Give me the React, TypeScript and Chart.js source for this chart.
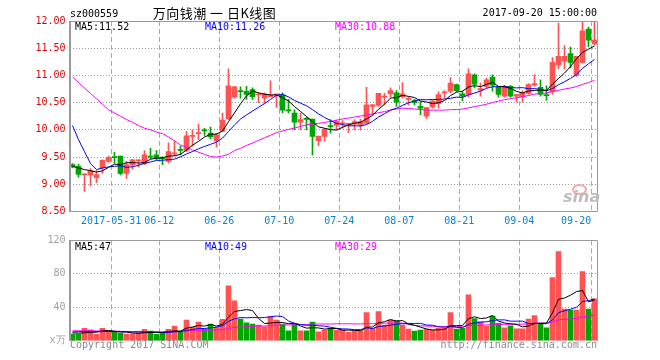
import React, { useEffect, useRef } from 'react';
import { Chart, registerables } from 'chart.js';

Chart.register(...registerables);

// ---------- data ----------
const dates = [
  '2017-05-18', '2017-05-19', '2017-05-22', '2017-05-23', '2017-05-24', '2017-05-25', '2017-05-26', '2017-05-31',
  '2017-06-01', '2017-06-02', '2017-06-05', '2017-06-06', '2017-06-07', '2017-06-08', '2017-06-09', '2017-06-12',
  '2017-06-13', '2017-06-14', '2017-06-15', '2017-06-16', '2017-06-19', '2017-06-20', '2017-06-21', '2017-06-22',
  '2017-06-23', '2017-06-26', '2017-06-27', '2017-06-28', '2017-06-29', '2017-06-30', '2017-07-03', '2017-07-04',
  '2017-07-05', '2017-07-06', '2017-07-07', '2017-07-10', '2017-07-11', '2017-07-12', '2017-07-13', '2017-07-14',
  '2017-07-17', '2017-07-18', '2017-07-19', '2017-07-20', '2017-07-21', '2017-07-24', '2017-07-25', '2017-07-26',
  '2017-07-27', '2017-07-28', '2017-07-31', '2017-08-01', '2017-08-02', '2017-08-03', '2017-08-04', '2017-08-07',
  '2017-08-08', '2017-08-09', '2017-08-10', '2017-08-11', '2017-08-14', '2017-08-15', '2017-08-16', '2017-08-17',
  '2017-08-18', '2017-08-21', '2017-08-22', '2017-08-23', '2017-08-24', '2017-08-25', '2017-08-28', '2017-08-29',
  '2017-08-30', '2017-08-31', '2017-09-01', '2017-09-04', '2017-09-05', '2017-09-06', '2017-09-07', '2017-09-08',
  '2017-09-11', '2017-09-12', '2017-09-13', '2017-09-14', '2017-09-15', '2017-09-18', '2017-09-19', '2017-09-20',
];

const opens = [
  9.36, 9.33, 9.17, 9.17, 9.12, 9.30, 9.42, 9.51, 9.52, 9.20,
  9.36, 9.43, 9.38, 9.52, 9.54, 9.48, 9.42, 9.56, 9.64, 9.62,
  9.88, 9.93, 10.00, 9.94, 9.80, 9.97, 10.20, 10.60, 10.72, 10.71,
  10.74, 10.64, 10.58, 10.61, 10.64, 10.64, 10.37, 10.31, 10.14, 10.21,
  10.20, 9.80, 9.88, 10.08, 10.08, 10.11, 10.10, 10.11, 10.09, 10.12,
  10.43, 10.45, 10.60, 10.66, 10.68, 10.61, 10.56, 10.54, 10.43, 10.25,
  10.42, 10.48, 10.68, 10.71, 10.83, 10.66, 10.65, 11.01, 10.73, 10.80,
  10.97, 10.78, 10.62, 10.80, 10.62, 10.61, 10.67, 10.82, 10.78, 10.64,
  10.70, 11.19, 11.26, 11.40, 11.00, 11.24, 11.85, 11.58,
];
const highs = [
  9.38, 9.37, 9.19, 9.29, 9.25, 9.45, 9.52, 9.59, 9.52, 9.42,
  9.46, 9.45, 9.62, 9.66, 9.62, 9.51, 9.76, 9.79, 9.70, 9.97,
  10.00, 10.10, 10.03, 10.05, 9.93, 10.31, 11.12, 10.80, 10.79, 10.80,
  10.77, 10.69, 10.68, 10.90, 10.66, 10.68, 10.56, 10.37, 10.31, 10.23,
  10.20, 9.89, 10.03, 10.19, 10.18, 10.17, 10.12, 10.19, 10.20, 10.78,
  10.47, 10.67, 10.67, 10.77, 10.72, 10.87, 10.60, 10.56, 10.52, 10.41,
  10.55, 10.70, 10.72, 10.96, 10.84, 10.70, 11.12, 11.03, 10.86, 10.95,
  11.01, 10.80, 10.82, 10.82, 10.65, 10.72, 10.85, 11.01, 10.92, 10.81,
  11.33, 11.96, 11.55, 11.52, 11.35, 11.98, 11.89, 12.00,
];
const lows = [
  9.30, 9.13, 8.87, 8.97, 9.03, 9.20, 9.40, 9.39, 9.17, 9.11,
  9.28, 9.32, 9.36, 9.47, 9.45, 9.36, 9.39, 9.52, 9.54, 9.60,
  9.70, 9.82, 9.90, 9.84, 9.68, 9.97, 10.19, 10.58, 10.58, 10.56,
  10.56, 10.50, 10.49, 10.61, 10.41, 10.31, 10.31, 10.00, 10.00, 10.00,
  9.54, 9.71, 9.79, 9.94, 10.00, 10.03, 9.95, 10.00, 10.00, 10.12,
  10.28, 10.43, 10.46, 10.60, 10.43, 10.58, 10.46, 10.46, 10.28, 10.21,
  10.40, 10.40, 10.58, 10.68, 10.70, 10.53, 10.60, 10.77, 10.62, 10.77,
  10.71, 10.60, 10.60, 10.60, 10.51, 10.51, 10.65, 10.80, 10.62, 10.54,
  10.65, 11.12, 11.12, 11.14, 10.98, 11.23, 11.53, 11.56,
];
const closes = [
  9.32, 9.18, 9.19, 9.25, 9.18, 9.44, 9.49, 9.49, 9.20, 9.36,
  9.45, 9.45, 9.54, 9.50, 9.47, 9.47, 9.60, 9.58, 9.62, 9.89,
  9.90, 9.95, 9.98, 9.87, 9.91, 10.18, 10.81, 10.79, 10.70, 10.65,
  10.61, 10.65, 10.66, 10.64, 10.65, 10.36, 10.35, 10.14, 10.19, 10.19,
  9.88, 9.88, 10.01, 10.06, 10.15, 10.13, 10.11, 10.15, 10.15, 10.46,
  10.46, 10.67, 10.61, 10.72, 10.51, 10.66, 10.58, 10.50, 10.40, 10.41,
  10.53, 10.65, 10.70, 10.86, 10.72, 10.62, 11.03, 10.84, 10.76, 10.92,
  10.82, 10.65, 10.80, 10.62, 10.65, 10.67, 10.83, 10.85, 10.65, 10.63,
  11.24, 11.35, 11.35, 11.24, 11.35, 11.82, 11.65, 11.65,
];
// volume in 万 (10k shares)
const volumes = [
  8, 8, 15, 13, 8, 15, 11, 10, 9, 8,
  8, 9.6, 13.6, 11.6, 7.6, 8.8, 13.6, 17.6, 10.8, 24.8,
  16, 22.4, 13.6, 20, 16, 25.6, 65.6, 47.6, 26, 21.6,
  20, 18.8, 16.8, 28.8, 24.8, 20, 12, 19.6, 12, 12,
  22.4, 10.8, 12.8, 14.8, 12.8, 12.8, 10.4, 12, 12, 33.6,
  14.8, 34.8, 18.8, 24.8, 24, 18.8, 14, 11.6, 12.8, 13.6,
  12.8, 14.8, 14.8, 33.6, 14, 14.8, 54.8, 26.4, 22.8, 17.6,
  29.6, 20.8, 15.6, 18, 14.4, 14.4, 26, 30, 20, 15.6,
  75.6, 106.4, 38, 36.8, 36.8, 82.8, 38, 50,
];

const priceMa5Head = [9.33, 9.30, 9.27, 9.25];
const priceMa10Head = [10.08, 9.82, 9.60, 9.38, 9.27, 9.30, 9.32, 9.33, 9.34];
const priceMa30Head = [
  10.97, 10.87, 10.77, 10.67, 10.57, 10.47, 10.37, 10.31, 10.25, 10.19,
  10.14, 10.08, 10.03, 10.00, 9.96, 9.93, 9.87, 9.80, 9.72, 9.68,
  9.63, 9.59, 9.55, 9.51, 9.50, 9.52, 9.55, 9.62, 9.66,
];
const volMa5Head = [9.5, 9.2, 9.5, 10];
const volMa10Head = [10.6, 10.8, 11.0, 11.0, 10.8, 11.0, 11.2, 11.0, 10.8];
const volMa30Head = [
  12.0, 12.0, 12.0, 11.9, 11.8, 11.7, 11.6, 11.5, 11.3, 11.2,
  11.0, 10.9, 10.8, 10.6, 10.5, 10.4, 10.6, 10.9, 11.1, 11.6,
  11.9, 12.3, 12.5, 12.8, 12.9, 13.2, 14.8, 15.9, 16.4,
];

const axisDates = ['2017-05-31', '2017-06-12', '2017-06-26', '2017-07-10', '2017-07-24', '2017-08-07', '2017-08-21', '2017-09-04', '2017-09-20'];
const axisTexts = ['2017-05-31', '06-12', '06-26', '07-10', '07-24', '08-07', '08-21', '09-04', '09-20'];
const priceTicks = [8.5, 9, 9.5, 10, 10.5, 11, 11.5, 12];
const volumeTicks = [0, 40, 80, 120];
const volumeUnit = 'x万';

const priceLegend = ['MA5:11.52', 'MA10:11.26', 'MA30:10.88'];
const volumeLegend = ['MA5:47', 'MA10:49', 'MA30:29'];
const stockCode = 'sz000559';
const chartTitle = '万向钱潮 一 日K线图';
const timeStamp = '2017-09-20 15:00:00';

// ---------- styles ----------
const MONO = "'DejaVu Sans Mono', 'Liberation Mono', monospace";
const RED = '#ff5252';
const GREEN = '#00a600';
const MA_COLORS = ['#000000', '#0000ff', '#ff00ff'];
const DATE_BLUE = '#0a82d2';

function movingAverage(values: number[], n: number, head: number[]): number[] {
  return values.map((_, i) => {
    if (i < n - 1) return head[i];
    let s = 0;
    for (let k = i - n + 1; k <= i; k++) s += values[k];
    return s / n;
  });
}

function boxPlugin(drawBottom: boolean) {
  return {
    id: 'panelBox',
    afterDatasetsDraw(chart: any) {
      const { ctx, chartArea } = chart;
      const { left, top, right, bottom } = chartArea;
      const t = Math.floor(top) + 0.5;
      const r = Math.floor(right) + 0.5;
      const b = Math.floor(bottom) + 0.5;
      ctx.save();
      ctx.setLineDash([]);
      ctx.strokeStyle = '#9a9a9a';
      ctx.lineWidth = 1;
      ctx.beginPath();
      ctx.moveTo(left, t);
      ctx.lineTo(r, t);
      ctx.lineTo(r, drawBottom ? b : bottom);
      if (drawBottom) ctx.lineTo(left, b);
      ctx.stroke();
      ctx.lineWidth = 2;
      ctx.beginPath();
      ctx.moveTo(70, t - 0.5);
      ctx.lineTo(70, drawBottom ? b + 0.5 : bottom);
      ctx.stroke();
      ctx.restore();
    },
  };
}

export default function App() {
  const priceRef = useRef<HTMLCanvasElement>(null);
  const volRef = useRef<HTMLCanvasElement>(null);

  useEffect(() => {
    const colors = closes.map((c, i) => (c >= opens[i] ? RED : GREEN));
    const labelAt = new Map<number, string>();
    axisDates.forEach((d, k) => labelAt.set(dates.indexOf(d), axisTexts[k]));
    const last = dates.length - 1;
    const vGridColor = (c: any) => (labelAt.has(c.index) ? '#ababab' : 'rgba(0,0,0,0)');

    const xScale = (showLabels: boolean, height: number) => ({
      type: 'category',
      offset: true,
      grid: { offset: true, drawTicks: false, color: vGridColor, lineWidth: 1 },
      border: { display: false, dash: [5, 3] },
      ticks: {
        display: showLabels,
        autoSkip: false,
        maxRotation: 0,
        minRotation: 0,
        padding: 4,
        labelOffset: -3.3,
        color: DATE_BLUE,
        font: { family: MONO, size: 10 },
        callback: (_v: any, i: number) => {
          const t = labelAt.get(i);
          if (!t) return '';
          return i === last ? t + '     ' : t;
        },
      },
      afterFit: (s: any) => {
        s.height = height;
      },
    });

    const lineDs = (label: string, data: number[], color: string) => ({
      type: 'line',
      label,
      data,
      borderColor: color,
      backgroundColor: color,
      borderWidth: 1,
      pointRadius: 0,
      tension: 0,
      fill: false,
      order: 0,
    });

    const pMa5 = movingAverage(closes, 5, priceMa5Head);
    const pMa10 = movingAverage(closes, 10, priceMa10Head);
    const pMa30 = movingAverage(closes, 30, priceMa30Head);
    const vMa5 = movingAverage(volumes, 5, volMa5Head);
    const vMa10 = movingAverage(volumes, 10, volMa10Head);
    const vMa30 = movingAverage(volumes, 30, volMa30Head);

    const price = new Chart(priceRef.current as HTMLCanvasElement, {
      type: 'bar',
      data: {
        labels: dates,
        datasets: [
          lineDs('MA5', pMa5, MA_COLORS[0]),
          lineDs('MA10', pMa10, MA_COLORS[1]),
          lineDs('MA30', pMa30, MA_COLORS[2]),
          {
            type: 'bar',
            label: 'body',
            data: opens.map((o, i) => [o, closes[i]]),
            backgroundColor: colors,
            barThickness: 5,
            minBarLength: 1,
            grouped: false,
            order: 1,
          },
          {
            type: 'bar',
            label: 'wick',
            data: lows.map((l, i) => [l, highs[i]]),
            backgroundColor: colors,
            barThickness: 1,
            grouped: false,
            order: 2,
          },
        ] as any,
      },
      options: {
        animation: false,
        responsive: false,
        events: [],
        layout: { padding: { left: 0, right: 62.5, top: 21, bottom: 0 } },
        plugins: { legend: { display: false }, tooltip: { enabled: false }, title: { display: false } },
        scales: {
          x: xScale(true, 16.5) as any,
          y: {
            min: 8.5,
            max: 12,
            afterBuildTicks: (s: any) => {
              s.ticks = priceTicks.map((v) => ({ value: v }));
            },
            ticks: {
              color: '#e00000',
              padding: 4,
              font: { family: MONO, size: 10 },
              callback: (v: any) => Number(v).toFixed(2),
            },
            grid: {
              drawTicks: false,
              color: (c: any) => {
                const v = c.tick ? c.tick.value : null;
                return v === 8.5 || v === 12 ? 'rgba(0,0,0,0)' : '#9a9a9a';
              },
            },
            border: { display: false, dash: [1, 2] },
            afterFit: (s: any) => {
              s.width = 69.5;
            },
          } as any,
        },
      },
      plugins: [boxPlugin(true)],
    });

    const vol = new Chart(volRef.current as HTMLCanvasElement, {
      type: 'bar',
      data: {
        labels: dates,
        datasets: [
          lineDs('MA5', vMa5, MA_COLORS[0]),
          lineDs('MA10', vMa10, MA_COLORS[1]),
          lineDs('MA30', vMa30, MA_COLORS[2]),
          {
            type: 'bar',
            label: 'volume',
            data: volumes,
            backgroundColor: colors,
            barThickness: 5,
            grouped: false,
            order: 1,
          },
        ] as any,
      },
      options: {
        animation: false,
        responsive: false,
        events: [],
        layout: { padding: { left: 0, right: 62.5, top: 12.3, bottom: 0 } },
        plugins: { legend: { display: false }, tooltip: { enabled: false }, title: { display: false } },
        scales: {
          x: xScale(false, 19.2) as any,
          y: {
            min: 0,
            max: 120,
            afterBuildTicks: (s: any) => {
              s.ticks = volumeTicks.map((v) => ({ value: v }));
            },
            ticks: {
              color: '#a0a0a0',
              padding: 4,
              font: { family: MONO, size: 10 },
              callback: (v: any) => (Number(v) === 0 ? volumeUnit : String(v)),
            },
            grid: {
              drawTicks: false,
              color: (c: any) => {
                const v = c.tick ? c.tick.value : null;
                return v === 0 || v === 120 ? 'rgba(0,0,0,0)' : '#9a9a9a';
              },
            },
            border: { display: false, dash: [1, 2] },
            afterFit: (s: any) => {
              s.width = 69.5;
            },
          } as any,
        },
      },
      plugins: [boxPlugin(false)],
    });

    return () => {
      price.destroy();
      vol.destroy();
    };
  }, []);

  const txt = (extra: React.CSSProperties): React.CSSProperties => ({
    position: 'absolute',
    fontFamily: MONO,
    fontSize: 10,
    lineHeight: '10px',
    whiteSpace: 'pre',
    ...extra,
  });

  return (
    <div style={{ position: 'fixed', left: 0, top: 0, width: 660, height: 360, background: '#fff', overflow: 'hidden' }}>
      <canvas ref={priceRef} width={660} height={228} style={{ position: 'absolute', left: 0, top: 0, display: 'block' }} />
      <canvas ref={volRef} width={660} height={132} style={{ position: 'absolute', left: 0, top: 228, display: 'block' }} />

      <div style={txt({ left: 70, top: 9, color: '#000' })}>{stockCode}</div>
      <div
        style={{
          position: 'absolute',
          left: 214.5,
          top: 5.5,
          transform: 'translateX(-50%)',
          fontFamily: "'Noto Sans CJK SC', sans-serif",
          fontSize: 13,
          lineHeight: '13px',
          letterSpacing: 0.5,
          whiteSpace: 'pre',
          color: '#000',
        }}
      >
        {chartTitle}
      </div>
      <div style={txt({ right: 63, top: 8, color: '#000' })}>{timeStamp}</div>

      <div style={txt({ left: 75, top: 21.5, color: MA_COLORS[0] })}>{priceLegend[0]}</div>
      <div style={txt({ left: 205, top: 21.5, color: MA_COLORS[1] })}>{priceLegend[1]}</div>
      <div style={txt({ left: 335, top: 21.5, color: MA_COLORS[2] })}>{priceLegend[2]}</div>

      <div style={txt({ left: 75, top: 242, color: MA_COLORS[0] })}>{volumeLegend[0]}</div>
      <div style={txt({ left: 205, top: 242, color: MA_COLORS[1] })}>{volumeLegend[1]}</div>
      <div style={txt({ left: 335, top: 242, color: MA_COLORS[2] })}>{volumeLegend[2]}</div>

      <div style={txt({ left: 70, top: 340, color: '#8a8a8a' })}>Copyright 2017 SINA.COM</div>
      <div style={txt({ right: 63, top: 340, color: '#8a8a8a' })}>http://finance.sina.com.cn</div>

      <div
        style={{
          position: 'absolute',
          left: 572,
          top: 184,
          width: 11,
          height: 7,
          borderRadius: '50%',
          border: '2px solid #f6a9a9',
        }}
      />
      <div
        style={{
          position: 'absolute',
          left: 563,
          top: 188.5,
          fontFamily: "'DejaVu Sans', sans-serif",
          fontWeight: 'bold',
          fontStyle: 'italic',
          fontSize: 16,
          lineHeight: '16px',
          color: '#bdbdbd',
        }}
      >
        sina
      </div>
    </div>
  );
}
